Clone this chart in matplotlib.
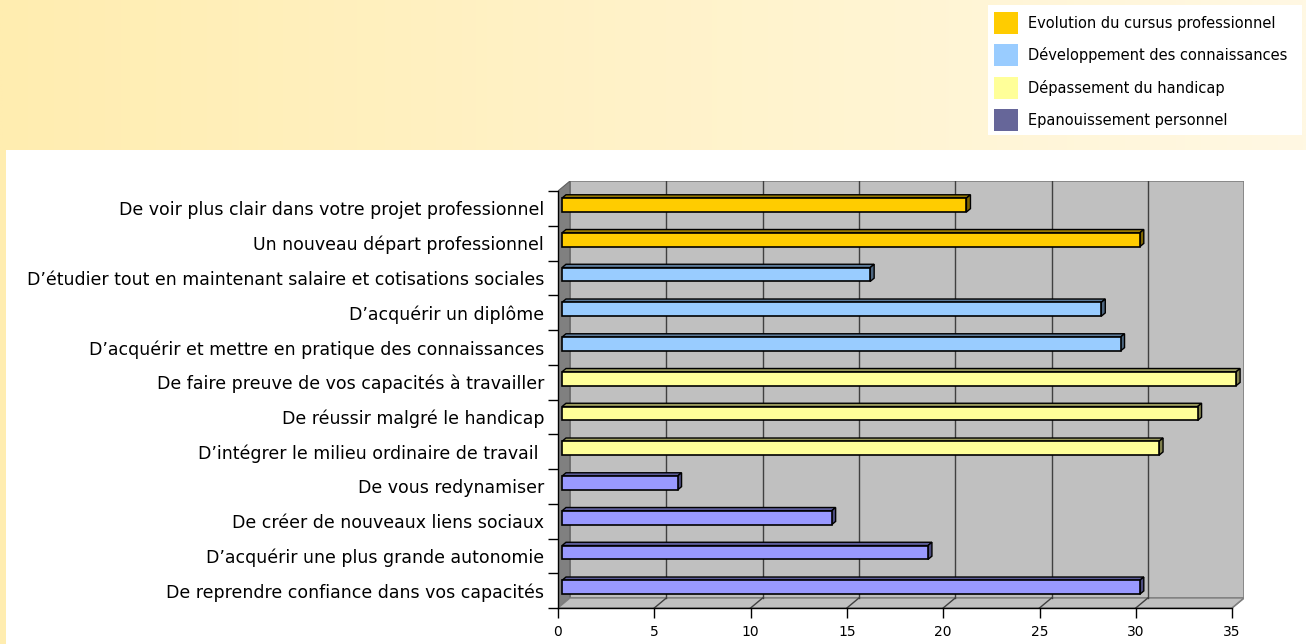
import numpy as np
import matplotlib
matplotlib.use("Agg")
import matplotlib.pyplot as plt
from matplotlib.patches import Polygon, Rectangle, Patch
from matplotlib.colors import to_rgb

# --- data -------------------------------------------------------------
categories = [
    "De voir plus clair dans votre projet professionnel",
    "Un nouveau départ professionnel",
    "D’étudier tout en maintenant salaire et cotisations sociales",
    "D’acquérir un diplôme",
    "D’acquérir et mettre en pratique des connaissances",
    "De faire preuve de vos capacités à travailler",
    "De réussir malgré le handicap",
    "D’intégrer le milieu ordinaire de travail ",
    "De vous redynamiser",
    "De créer de nouveaux liens sociaux",
    "D’acquérir une plus grande autonomie",
    "De reprendre confiance dans vos capacités",
]
values = [21, 30, 16, 28, 29, 35, 33, 31, 6, 14, 19, 30]
groups = [0, 0, 1, 1, 1, 2, 2, 2, 3, 3, 3, 3]
series_names = [
    "Evolution du cursus professionnel",
    "Développement des connaissances",
    "Dépassement du handicap",
    "Epanouissement personnel",
]
x_ticks = [0, 5, 10, 15, 20, 25, 30, 35]

# --- styling ----------------------------------------------------------
bar_colors = ["#FFCC00", "#99CCFF", "#FFFF99", "#9999FF"]
legend_colors = ["#FFCC00", "#99CCFF", "#FFFF99", "#666699"]
W, H = 1306, 644
FONT = "DejaVu Sans"


def shade(color, f):
    r, g, b = to_rgb(color)
    return (r * f, g * f, b * f)


fig = plt.figure(figsize=(W / 100, H / 100), dpi=100)
fig.patch.set_facecolor("white")

# background banner with a soft horizontal gradient
bg = fig.add_axes([0, 0, 1, 1], zorder=-10)
bg.set_xlim(0, W)
bg.set_ylim(H, 0)
bg.axis("off")
c0 = np.array(to_rgb("#FFEDB0"))
c1 = np.array(to_rgb("#FFF8E3"))
t = np.linspace(0, 1, 256)
grad = (c0[None, :] * (1 - t[:, None]) + c1[None, :] * t[:, None])[None, :, :]
bg.imshow(grad, extent=[0, W, 150, 0], aspect="auto", interpolation="bilinear")
bg.add_patch(Rectangle((0, 150), 6, H - 150, color="#FFEDB0", lw=0))
bg.add_patch(Rectangle((988, 5), W - 988 - 4, 130, color="white", lw=0))

# --- main 3D-looking bar chart ---------------------------------------
n = len(categories)
xmax = 35
px_x = 19.26          # pixels per value unit
px_y = 34.75          # pixels per category
dx = 12 / px_x        # depth offset (right)
dy = 10 / px_y        # depth offset (up)
left_px, bottom_px = 558, 608
ax = fig.add_axes([left_px / W, (H - bottom_px) / H,
                   (xmax + dx) * px_x / W, (n + dy) * px_y / H])
ax.set_xlim(0, xmax + dx)
ax.set_ylim(0, n + dy)
ax.patch.set_visible(False)

wall = "#C0C0C0"
# back wall
ax.add_patch(Rectangle((dx, dy), xmax, n, facecolor=wall,
                       edgecolor="#808080", lw=1.2, zorder=1))
# left side wall
ax.add_patch(Polygon([(0, 0), (dx, dy), (dx, n + dy), (0, n)], closed=True,
                     facecolor="#808080", edgecolor="#606060", lw=0.8, zorder=1))
# floor
ax.add_patch(Polygon([(0, 0), (xmax, 0), (xmax + dx, dy), (dx, dy)], closed=True,
                     facecolor=wall, edgecolor="#808080", lw=1.0, zorder=1))
# gridlines on back wall and floor
for k in x_ticks[1:-1]:
    ax.plot([k + dx, k + dx], [dy, n + dy], color="#404040", lw=1.0, zorder=2)
    ax.plot([k, k + dx], [0, dy], color="#404040", lw=1.0, zorder=2)
ax.plot([xmax, xmax + dx], [0, dy], color="#808080", lw=1.0, zorder=2)

# bars: front face, top face and end face
bh = 0.4
ox, oy = dx / 3, dy / 3
for i, (v, g) in enumerate(zip(values, groups)):
    c = bar_colors[g]
    yc = (n - 1 - i) + 0.5 + oy
    y0, y1 = yc - bh / 2, yc + bh / 2
    ax.barh(yc, v, height=bh, left=ox, color=c, edgecolor="black",
            lw=1.2, zorder=5)
    ax.add_patch(Polygon([(ox, y1), (ox + v, y1), (2 * ox + v, y1 + oy),
                          (2 * ox, y1 + oy)], closed=True,
                         facecolor=shade(c, 0.6), edgecolor="black",
                         lw=1.0, zorder=4))
    ax.add_patch(Polygon([(ox + v, y0), (ox + v, y1), (2 * ox + v, y1 + oy),
                          (2 * ox + v, y0 + oy)], closed=True,
                         facecolor=shade(c, 0.5), edgecolor="black",
                         lw=1.0, zorder=4))

# axes lines and ticks
for s in ["top", "right"]:
    ax.spines[s].set_visible(False)
ax.spines["bottom"].set_bounds(0, xmax)
ax.spines["left"].set_bounds(0, n)
ax.spines["bottom"].set_zorder(6)
ax.spines["left"].set_zorder(6)
ax.spines["bottom"].set_linewidth(1.0)
ax.spines["left"].set_linewidth(1.0)

ax.set_xticks(x_ticks)
ax.set_xticklabels([str(k) for k in x_ticks], fontsize=10, family=FONT)
ax.tick_params(axis="x", direction="out", length=7.5, width=1.0, pad=5)

ax.set_yticks(range(n + 1))
ax.set_yticklabels([])
ax.tick_params(axis="y", which="major", direction="out", length=7, width=1.0)
ax.set_yticks([n - 1 - i + 0.5 for i in range(n)], minor=True)
ax.set_yticklabels(categories, minor=True, fontsize=12.5, family=FONT)
ax.tick_params(axis="y", which="minor", length=0, pad=10)

# legend
handles = [Patch(facecolor=c, edgecolor="none") for c in legend_colors]
fig.legend(handles, series_names, loc="upper left",
           bbox_to_anchor=(994 / W, 1 - 12 / H), frameon=False,
           borderaxespad=0, borderpad=0, handlelength=1.65, handleheight=1.94,
           handletextpad=0.65, labelspacing=0.72,
           prop={"family": FONT, "size": 10.5})

fig.savefig("out.png", dpi=100, facecolor=fig.get_facecolor())
